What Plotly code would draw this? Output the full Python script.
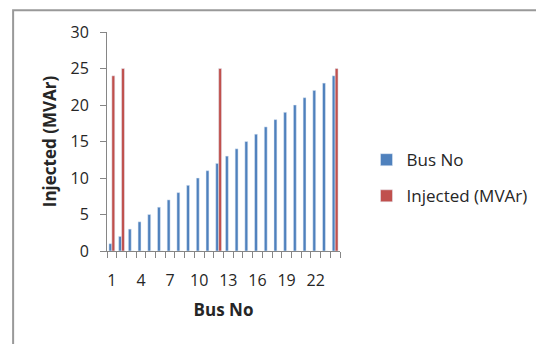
import plotly.graph_objects as go

bus = list(range(1, 25))
bus_no = list(range(1, 25))
injected = [24, 25, 0, 0, 0, 0, 0, 0, 0, 0, 0, 25, 0, 0, 0, 0, 0, 0, 0, 0, 0, 0, 0, 25]
x_ticks = [1, 4, 7, 10, 13, 16, 19, 22]

BLUE = "#4F81BD"
RED = "#C0504D"
FONT = "Open Sans"
TXT = "#262626"

fig = go.Figure()
fig.add_trace(go.Bar(x=bus, y=bus_no, name="Bus No", marker_color=BLUE,
                     legendgroup="a"))
fig.add_trace(go.Bar(x=bus, y=injected, name="Injected (MVAr)", marker_color=RED,
                     legendgroup="b"))

OFF = 8  # page body margin
W, H = 544 - OFF, 344 - OFF
L, R, T, B = 106.7 - OFF, 346.7 - OFF, 31.7 - OFF, 251 - OFF
pw, ph = R - L, B - T

def px(x):
    return (x - OFF - L) / pw

def py(y):
    return (B - (y - OFF)) / ph

fig.update_layout(
    width=W, height=H,
    margin=dict(l=L, r=W - R, t=T, b=H - B, pad=0),
    paper_bgcolor="white", plot_bgcolor="white",
    barmode="group", bargap=0.4, bargroupgap=0,
    font=dict(family=FONT, size=16, color=TXT),
    showlegend=True,
    legend=dict(x=px(374), y=py(142), xanchor="left", yanchor="top",
                font=dict(size=17, color=TXT), tracegroupgap=11,
                bgcolor="rgba(0,0,0,0)"),
    xaxis=dict(range=[0.5, 24.5], tickvals=x_ticks,
               ticktext=[str(v) for v in x_ticks],
               ticks="", showgrid=False, zeroline=False,
               showline=True, linecolor="#868686", linewidth=1,
               ticklabelstandoff=15,
               tickfont=dict(size=16, color=TXT),
               minor=dict(tick0=0.5, dtick=1, ticks="outside", ticklen=6,
                          tickcolor="#868686", tickwidth=1, showgrid=False),
               title=dict(text="<b>Bus No</b>", font=dict(size=17, color=TXT),
                          standoff=13)),
    yaxis=dict(range=[0, 30], tickvals=[0, 5, 10, 15, 20, 25, 30],
               ticks="outside", ticklen=6, tickcolor="#868686",
               showgrid=False, zeroline=False,
               showline=True, linecolor="#868686", linewidth=1,
               ticklabelstandoff=8,
               tickfont=dict(size=16, color=TXT),
               title=dict(text="<b>Injected (MVAr)</b>",
                          font=dict(size=17, color=TXT), standoff=9)),
    shapes=[dict(type="rect", xref="paper", yref="paper",
                 x0=px(10), x1=px(600), y0=py(400), y1=py(10),
                 line=dict(color="#999999", width=2), fillcolor="rgba(0,0,0,0)",
                 layer="above")],
)

fig.write_html("out.html")
